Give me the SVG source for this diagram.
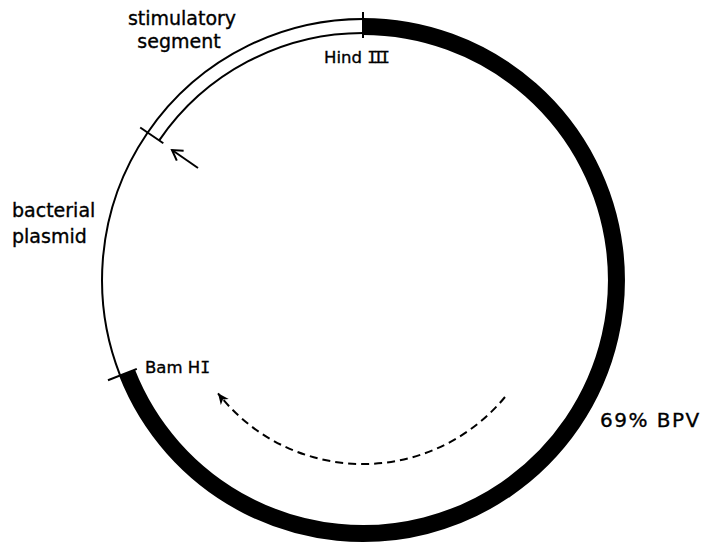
<svg xmlns="http://www.w3.org/2000/svg" width="706" height="545" viewBox="0 0 706 545">
<style>
.thin{fill:none;stroke:#000;stroke-width:2}
.band{fill:none;stroke:#000;stroke-width:17}
.lbl{font-family:"DejaVu Sans",sans-serif;fill:#000;stroke:#000;stroke-width:0.35}
.big{font-size:19px}
.small{font-size:16.5px}
.rom{font-family:"DejaVu Sans Mono",monospace}
</style>
<defs>
<marker id="openHead" markerWidth="14" markerHeight="14" refX="12" refY="7" orient="auto" markerUnits="userSpaceOnUse">
<path d="M2,1 L12,7 L2,13" fill="none" stroke="#000" stroke-width="2"/>
</marker>
<marker id="dashHead" markerWidth="12" markerHeight="12" refX="11" refY="6" orient="auto" markerUnits="userSpaceOnUse">
<path d="M0,1 L11,6 L0,11 L3,6 Z" fill="#000"/>
</marker>
</defs>
<rect width="706" height="545" fill="#fff"/>
<g id="bpv-segment">
<path class="band" d="M363,26.5 A253.5,253.5 0 1 1 127.0,372.7"/>
</g>
<g id="bacterial-plasmid">
<path class="thin" d="M120.1,375.4 A261,261 0 0 1 363,19"/>
</g>
<g id="stimulatory-segment">
<path class="thin" d="M159.2,140.4 A247,247 0 0 1 363,33"/>
</g>
<g id="ticks">
<line class="thin" x1="605" y1="280" x2="631" y2="280" transform="rotate(270 363 280)"/>
<line class="thin" x1="605" y1="280" x2="633" y2="280" transform="rotate(214.4 363 280)"/>
<line class="thin" x1="606" y1="280" x2="637" y2="280" transform="rotate(158.55 363 280)"/>
</g>
<g id="connectors">
<line class="thin" x1="198" y1="168" x2="172" y2="150" marker-end="url(#openHead)"/>
<path class="thin" d="M505,397 A184,184 0 0 1 218,393.3" stroke-dasharray="8,5" stroke-width="1.8" marker-end="url(#dashHead)"/>
</g>
<g id="labels">
<text class="lbl big" x="182" y="25" text-anchor="middle">stimulatory</text>
<text class="lbl big" x="179" y="48" text-anchor="middle">segment</text>
<text class="lbl big" x="12" y="217">bacterial</text>
<text class="lbl big" x="12" y="243">plasmid</text>
<text class="lbl small" x="324" y="63">Hind <tspan class="rom" letter-spacing="-3.5">III</tspan></text>
<text class="lbl small" x="145" y="373">Bam H<tspan class="rom">I</tspan></text>
<text class="lbl" x="600" y="427" font-size="20" letter-spacing="1.5">69% BPV</text>
</g>
</svg>
